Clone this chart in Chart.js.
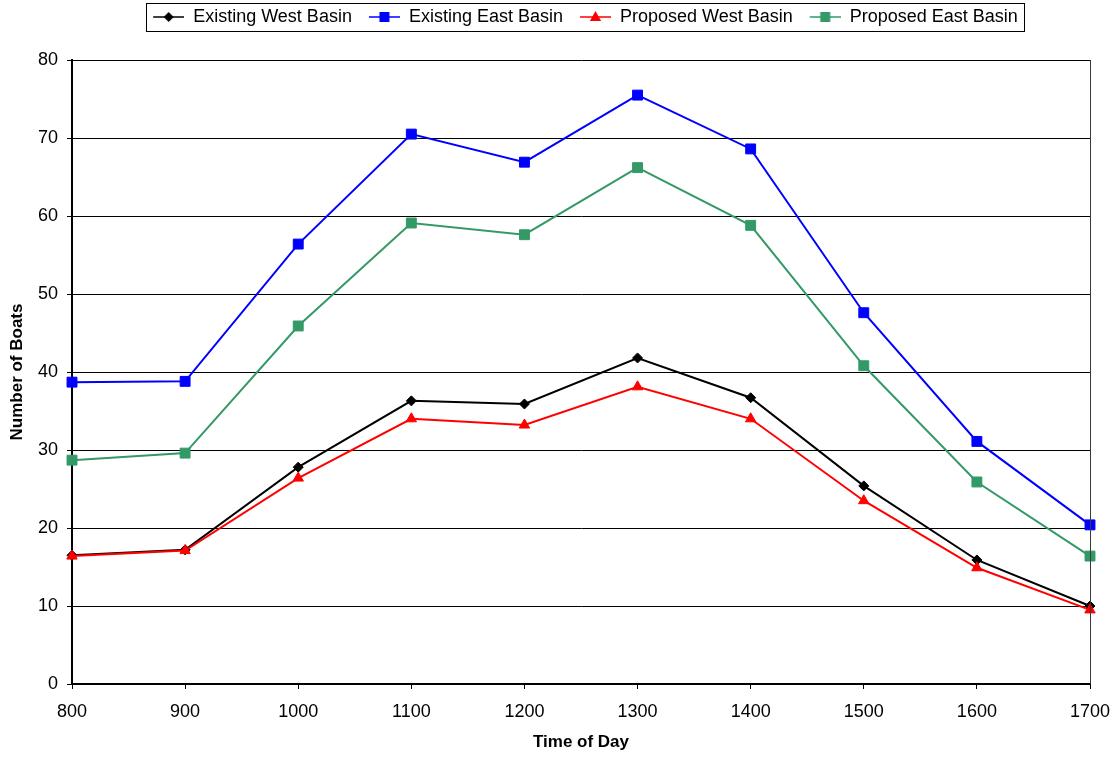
<!DOCTYPE html>
<html>
<head>
<meta charset="utf-8">
<script src="https://cdn.jsdelivr.net/npm/chart.js@4.4.1/dist/chart.umd.min.js"></script>
<style>
  html, body { margin: 0; padding: 0; background: #ffffff; }
  #wrap { width: 1117px; height: 757px; }
</style>
</head>
<body>
<div id="wrap"><canvas id="boats"></canvas></div>
<script>
// Hourly boat counts per basin
const timeOfDay = ['800', '900', '1000', '1100', '1200', '1300', '1400', '1500', '1600', '1700'];
const existingWest = [16.5, 17.2, 27.8, 36.3, 35.9, 41.8, 36.7, 25.4, 15.9, 10.0];
const existingEast = [38.7, 38.8, 56.4, 70.5, 66.9, 75.5, 68.6, 47.6, 31.1, 20.4];
const proposedWest = [16.4, 17.1, 26.4, 34.0, 33.2, 38.1, 34.0, 23.5, 14.9, 9.5];
const proposedEast = [28.7, 29.6, 45.9, 59.1, 57.6, 66.2, 58.8, 40.8, 25.9, 16.4];
const seriesNames = ['Existing West Basin', 'Existing East Basin', 'Proposed West Basin', 'Proposed East Basin'];
const yMin = 0, yMax = 80, yStep = 10;

const FONT = '"Liberation Sans", Arial, Helvetica, sans-serif';
const LEAD = 9;      // transparent space before each legend glyph
const GLYPH = 31;    // length of the legend line sample

// Legend sample: a short line with the series marker in its middle
function legendIcon(color, shape) {
  const c = document.createElement('canvas');
  c.width = LEAD + GLYPH; c.height = 14;
  const g = c.getContext('2d');
  const cy = 7, cx = LEAD + GLYPH / 2;
  g.strokeStyle = color; g.lineWidth = 1.5;
  g.beginPath(); g.moveTo(LEAD, cy); g.lineTo(LEAD + GLYPH, cy); g.stroke();
  g.fillStyle = color;
  g.beginPath();
  if (shape === 'rectRot') {
    g.moveTo(cx - 5, cy); g.lineTo(cx, cy - 5); g.lineTo(cx + 5, cy); g.lineTo(cx, cy + 5);
  } else if (shape === 'rect') {
    g.rect(cx - 5, cy - 5, 10, 10);
  } else {
    g.moveTo(cx, cy - 6); g.lineTo(cx + 5.6, cy + 4); g.lineTo(cx - 5.6, cy + 4);
  }
  g.closePath(); g.fill();
  return c;
}

const styles = [
  { color: '#000000', shape: 'rectRot', radius: 5 },
  { color: '#0000ff', shape: 'rect', radius: 7 },
  { color: '#ff0000', shape: 'triangle', radius: 6 },
  { color: '#339966', shape: 'rect', radius: 7 }
];
const seriesValues = [existingWest, existingEast, proposedWest, proposedEast];
const icons = styles.map(s => legendIcon(s.color, s.shape));

const datasets = seriesValues.map((vals, i) => ({
  label: seriesNames[i],
  data: vals,
  borderColor: styles[i].color,
  backgroundColor: styles[i].color,
  borderWidth: 2,
  pointStyle: styles[i].shape,
  pointRadius: styles[i].radius,
  pointHoverRadius: styles[i].radius,
  pointBorderWidth: 1,
  pointBackgroundColor: styles[i].color,
  pointBorderColor: styles[i].color,
  tension: 0,
  order: seriesValues.length - i
}));

const frame = {
  id: 'frame',
  beforeInit(chart) {
    const fit = chart.legend.fit;
    chart.legend.fit = function () { fit.call(this); this.height = 60; };
  },
  beforeDraw(chart) {
    const ctx = chart.ctx;
    ctx.save(); ctx.fillStyle = '#ffffff';
    ctx.fillRect(0, 0, chart.width, chart.height); ctx.restore();
  },
  afterDraw(chart) {
    const ctx = chart.ctx, a = chart.chartArea;
    ctx.save();
    // right edge of the plot frame
    ctx.strokeStyle = '#3a3a3a'; ctx.lineWidth = 1;
    ctx.beginPath();
    ctx.moveTo(Math.round(a.right) + 0.5, a.top);
    ctx.lineTo(Math.round(a.right) + 0.5, a.bottom);
    ctx.stroke();
    // box round the legend
    const hb = chart.legend.legendHitBoxes;
    if (hb && hb.length) {
      const first = hb[0], last = hb[hb.length - 1];
      const x0 = Math.round(first.left + LEAD - 7) + 0.5;
      const x1 = Math.round(last.left + last.width + 6) + 0.5;
      const cy = first.top + first.height / 2;
      const y0 = Math.round(cy - 14) + 0.5;
      ctx.strokeStyle = '#000000';
      ctx.strokeRect(x0, y0, x1 - x0, 28);
    }
    ctx.restore();
  }
};

new Chart(document.getElementById('boats'), {
  type: 'line',
  data: { labels: timeOfDay, datasets },
  plugins: [frame],
  options: {
    responsive: true,
    maintainAspectRatio: false,
    animation: false,
    layout: { padding: { left: 0, right: 27, top: 0, bottom: 0 } },
    plugins: {
      tooltip: { enabled: false },
      legend: {
        position: 'top',
        fullSize: false,
        labels: {
          usePointStyle: true,
          pointStyleWidth: LEAD + GLYPH,
          padding: 8,
          color: '#000000',
          font: { family: FONT, size: 18 },
          sort: (a, b) => a.datasetIndex - b.datasetIndex,
          generateLabels(chart) {
            const items = Chart.defaults.plugins.legend.labels.generateLabels(chart);
            items.forEach(it => { it.pointStyle = icons[it.datasetIndex]; });
            return items;
          }
        }
      }
    },
    scales: {
      x: {
        type: 'category',
        offset: false,
        afterFit(scale) { scale.height = 73; scale.paddingRight = 0; },
        grid: { drawOnChartArea: false, drawTicks: true, tickLength: 5, color: '#000000' },
        border: { color: '#000000', width: 2 },
        ticks: { color: '#000000', padding: 12, maxRotation: 0, autoSkip: false, font: { family: FONT, size: 18 } },
        title: {
          display: true, text: 'Time of Day', color: '#000000',
          font: { family: FONT, size: 17, weight: 'bold' },
          padding: { top: 0, bottom: 4 }
        }
      },
      y: {
        min: yMin, max: yMax,
        afterFit(scale) { scale.width = 72; },
        grid: { color: '#000000', lineWidth: 1, drawTicks: true, tickLength: 5 },
        border: { color: '#000000', width: 2 },
        ticks: { stepSize: yStep, color: '#000000', padding: 9, font: { family: FONT, size: 18 } },
        title: {
          display: true, text: 'Number of Boats', color: '#000000',
          font: { family: FONT, size: 17, weight: 'bold' },
          padding: { top: 7, bottom: 0 }
        }
      }
    }
  }
});
</script>
</body>
</html>
